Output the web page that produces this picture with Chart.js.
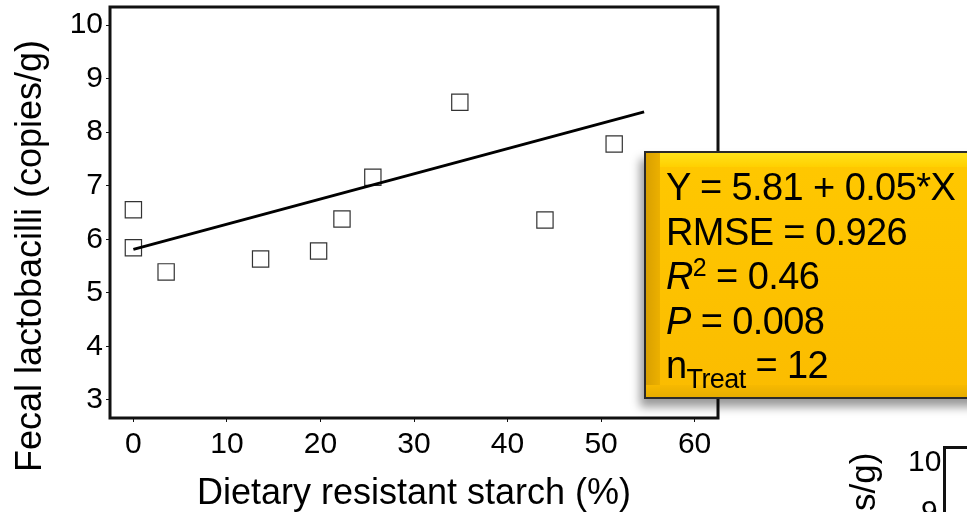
<!DOCTYPE html>
<html>
<head>
<meta charset="utf-8">
<script src="https://cdn.jsdelivr.net/npm/chart.js@4.4.1/dist/chart.umd.min.js"></script>
<style>
  body { margin: 0; background: #fff; font-family: "Liberation Sans", Arial, sans-serif; }
  #wrap { position: relative; width: 967px; height: 512px; overflow: hidden; }
  #statsBox {
    position: absolute; left: 644px; top: 151px; width: 340px; height: 248px;
    border: 2px solid #2a2a2a;
    background: linear-gradient(180deg, #ffc800 0%, #fbbc00 100%);
    box-shadow: -4px 8px 9px rgba(0,0,0,0.4);
    color: #000; font-size: 38px; line-height: 44.5px;
    box-sizing: border-box; padding: 12px 0 0 20px;
  }
  #statsBox .bevTop { position: absolute; left: 0; top: 0; right: 0; height: 14px;
    background: linear-gradient(180deg, #ffe21a, #ffd000); }
  #statsBox .bevLeft { position: absolute; left: 0; top: 0; bottom: 0; width: 14px;
    background: linear-gradient(90deg, #d9a000, #ecb000); }
  #statsBox .bevBot { position: absolute; left: 0; bottom: 0; right: 0; height: 12px;
    background: linear-gradient(0deg, #e6ad00, #f7b900); }
  #statsBox .txt { position: relative; white-space: nowrap; letter-spacing: -0.6px; }
  #statsBox sub { font-size: 27px; vertical-align: -10px; line-height: 0; }
  #statsBox sup { font-size: 25px; vertical-align: 13px; line-height: 0; }
  .frag { position: absolute; color: #000; }
</style>
</head>
<body>
<div id="wrap">
  <canvas id="fecalChart" width="967" height="512"></canvas>
  <div id="statsBox">
    <div class="bevTop"></div><div class="bevLeft"></div><div class="bevBot"></div>
    <div class="txt">Y = 5.81 + 0.05*X<br>RMSE = 0.926<br><i>R</i><sup>2</sup> = 0.46<br><i>P</i> = 0.008<br>n<sub>Treat</sub> = 12</div>
  </div>
  <div class="frag" style="left:840px; top:445px; width:45px; height:67px; overflow:hidden;">
    <div style="position:absolute; left:0; top:0; transform-origin: 0 0; transform: translate(3px, 66px) rotate(-90deg); font-size:35px; white-space:nowrap;">s/g)</div>
  </div>
  <div class="frag" style="left:908px; top:444px; font-size:30px;">10</div>
  <div class="frag" style="left:921px; top:494px; font-size:30px; height:18px; overflow:hidden;">9</div>
  <div class="frag" style="left:943px; top:446px; width:40px; height:80px; border-left:3px solid #111; border-top:3px solid #111;"></div>
</div>
<script>
const starchPct = [0, 0, 3.5, 13.6, 19.8, 22.3, 25.6, 34.9, 44.0, 51.4];
const lactoLog = [6.55, 5.84, 5.39, 5.63, 5.78, 6.38, 7.16, 8.56, 6.36, 7.78];
const fitX = [0, 54.6];
const fitY = [5.81, 8.38];
const xTicks = [0, 10, 20, 30, 40, 50, 60];
const yTicks = [3, 4, 5, 6, 7, 8, 9, 10];
const yTitle = "Fecal lactobacilli (copies/g)";

// frame around the plot + y title (sits lower than the plot centre in the original)
const boxPlugin = {
  id: "boxPlugin",
  afterDatasetsDraw(chart) {
    const { ctx, chartArea: a } = chart;
    ctx.save();
    ctx.strokeStyle = "#111";
    ctx.lineWidth = 3;
    ctx.strokeRect(a.left, a.top, a.right - a.left, a.bottom - a.top);
    ctx.translate(31, 256);
    ctx.rotate(-Math.PI / 2);
    ctx.font = "36px 'Liberation Sans'";
    ctx.fillStyle = "#000";
    ctx.textAlign = "center";
    ctx.textBaseline = "middle";
    ctx.fillText(yTitle, 0, 0);
    ctx.restore();
  },
};

const ctx = document.getElementById("fecalChart");
new Chart(ctx, {
  type: "scatter",
  data: {
    datasets: [
      {
        type: "line",
        data: fitX.map((x, i) => ({ x, y: fitY[i] })),
        borderColor: "#000",
        borderWidth: 3,
        pointRadius: 0,
        fill: false,
      },
      {
        data: starchPct.map((x, i) => ({ x, y: lactoLog[i] })),
        pointStyle: "rect",
        pointRadius: 11.5,
        backgroundColor: "#fff",
        borderColor: "#333",
        borderWidth: 1.2,
      },
    ],
  },
  options: {
    responsive: false,
    animation: false,
    layout: { autoPadding: false, padding: { left: 0, top: 7, right: 249, bottom: 0 } },
    plugins: { legend: { display: false }, tooltip: { enabled: false } },
    scales: {
      x: {
        type: "linear",
        min: -2.5,
        max: 62.5,
        afterFit: (s) => { s.height = 94; s.paddingLeft = 0; s.paddingRight = 0; },
        afterBuildTicks: (s) => { s.ticks = xTicks.map((v) => ({ value: v })); },
        ticks: { color: "#000", font: { family: "Liberation Sans", size: 30 }, padding: 5 },
        grid: { drawOnChartArea: false, drawTicks: true, tickLength: 4, color: "#111" },
        border: { display: false },
        title: {
          display: true,
          text: "Dietary resistant starch (%)",
          color: "#000",
          font: { family: "Liberation Sans", size: 36 },
          padding: { top: 0, bottom: -4 },
        },
      },
      y: {
        type: "linear",
        min: 2.66,
        max: 10.34,
        afterFit: (s) => { s.width = 110; s.paddingTop = 0; s.paddingBottom = 0; },
        afterBuildTicks: (s) => { s.ticks = yTicks.map((v) => ({ value: v })); },
        ticks: { color: "#000", font: { family: "Liberation Sans", size: 30 }, padding: 3 },
        grid: { drawOnChartArea: false, drawTicks: true, tickLength: 4, color: "#111" },
        border: { display: false },
        title: { display: false },
      },
    },
  },
  plugins: [boxPlugin],
});
</script>
</body>
</html>
